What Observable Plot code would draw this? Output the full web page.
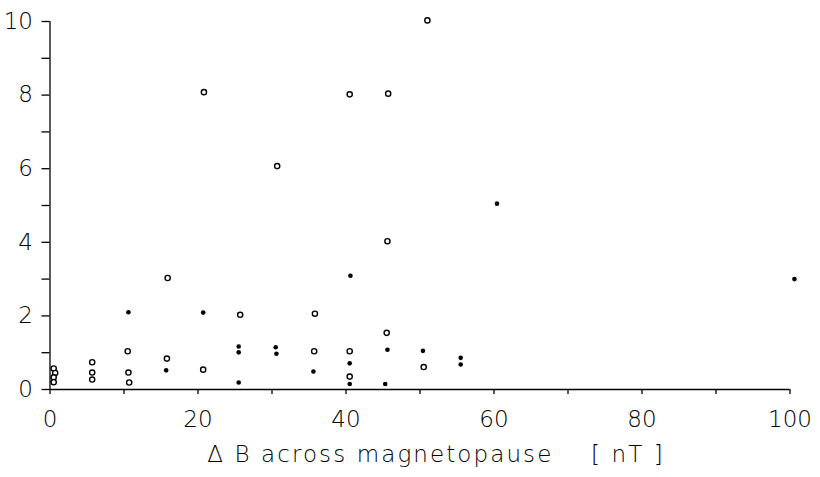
<!DOCTYPE html>
<html>
<head>
<meta charset="utf-8">
<script src="https://cdn.jsdelivr.net/npm/d3@7"></script>
<script src="https://cdn.jsdelivr.net/npm/@observablehq/plot@0.6"></script>
<style>
  html, body { margin: 0; padding: 0; background: #fff; }
  svg { display: block; }
  .xlabel text { letter-spacing: 2.1px; }
</style>
</head>
<body>
<div id="chart"></div>
<script>
// Open-circle series
const openX = [51, 20.8, 40.5, 45.7, 30.7, 45.6, 15.9, 25.7, 35.8, 45.5, 10.5, 15.8, 35.7, 40.5, 40.5, 20.7, 50.5, 10.6, 10.7, 5.7, 5.7, 5.7, 0.5, 0.7, 0.5, 0.5];
const openY = [10.03, 8.08, 8.02, 8.04, 6.07, 4.03, 3.03, 2.03, 2.06, 1.54, 1.04, 0.84, 1.04, 1.04, 0.35, 0.54, 0.61, 0.46, 0.19, 0.74, 0.46, 0.27, 0.57, 0.45, 0.33, 0.2];
// Filled-dot series
const filledX = [10.6, 20.7, 40.6, 60.4, 100.6, 25.5, 25.5, 30.5, 30.6, 40.5, 40.5, 35.6, 25.5, 45.6, 50.4, 55.5, 55.5, 45.3, 15.7];
const filledY = [2.1, 2.09, 3.09, 5.05, 3.0, 1.17, 1.01, 1.15, 0.97, 0.71, 0.15, 0.49, 0.19, 1.08, 1.05, 0.86, 0.68, 0.15, 0.52];
// Ticks
const xTicks = [0, 10, 20, 30, 40, 50, 60, 70, 80, 90, 100];
const xTickLabels = [0, 20, 40, 60, 80, 100];
const yTicks = [0, 1, 2, 3, 4, 5, 6, 7, 8, 9, 10];
const yTickLabels = [0, 2, 4, 6, 8, 10];
const xLabel = "Δ B across magnetopause\u00a0\u00a0\u00a0\u00a0[\u00a0nT\u00a0]";

const openData = openX.map((x, i) => ({x, y: openY[i]}));
const filledData = filledX.map((x, i) => ({x, y: filledY[i]}));

const chart = Plot.plot({
  width: 820,
  height: 477,
  marginLeft: 49.5,
  marginRight: 30.5,
  marginTop: 21,
  marginBottom: 88,
  style: {fontFamily: "'DejaVu Sans', sans-serif", fontWeight: 200, fontSize: "23px", color: "#000", background: "#fff"},
  x: {domain: [0, 100]},
  y: {domain: [0, 10]},
  marks: [
    Plot.axisX({ticks: xTicks, tickSize: 5, tickPadding: 16, fontSize: 23,
      tickFormat: d => xTickLabels.includes(d) ? String(d) : "", label: null, strokeWidth: 1.3}),
    Plot.axisY({ticks: yTicks, tickSize: 8, tickPadding: 9, fontSize: 23,
      tickFormat: d => yTickLabels.includes(d) ? String(d) : "", label: null, strokeWidth: 1.3}),
    Plot.ruleY([0], {stroke: "#000", strokeWidth: 1.3}),
    Plot.ruleX([0], {stroke: "#000", strokeWidth: 1.3}),
    Plot.text([xLabel], {frameAnchor: "bottom", dy: 72, dx: 16, fontSize: 23, fill: "#000", className: "xlabel"}),
    Plot.dot(openData, {x: "x", y: "y", r: 2.6, stroke: "#000", strokeWidth: 1.4, fill: "#fff"}),
    Plot.dot(filledData, {x: "x", y: "y", r: 2.3, fill: "#000", stroke: "none"})
  ]
});
document.getElementById("chart").appendChild(chart);
</script>
</body>
</html>
